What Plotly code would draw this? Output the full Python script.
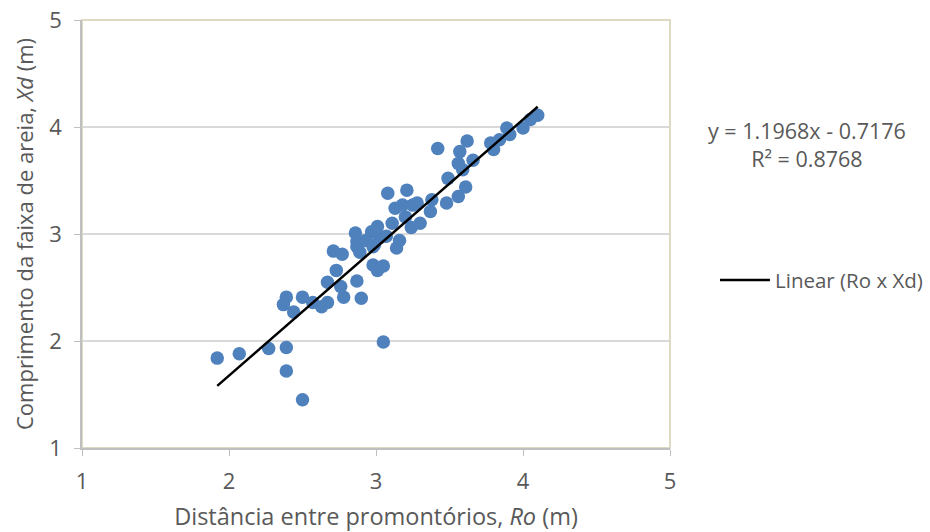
import plotly.graph_objects as go

# Distância entre promontórios (Ro) e comprimento da faixa de areia (Xd), em metros
ro = [1.92, 2.07, 2.27, 2.39, 2.39, 2.50, 3.05, 2.39, 2.50, 2.37,
      2.44, 2.57, 2.63, 2.67, 2.78, 2.90, 2.67, 2.76, 2.87, 2.73,
      2.71, 2.77, 2.87, 2.89, 2.98, 2.98, 3.05, 3.01, 2.86, 2.87,
      2.97, 3.01, 3.03, 2.99, 3.11, 3.08, 3.21, 3.13, 3.18, 3.25,
      3.28, 3.38, 3.37, 3.30, 3.24, 3.16, 3.14, 3.42, 3.62, 3.78,
      3.57, 3.66, 3.56, 3.59, 3.49, 3.61, 3.56, 3.48, 3.80, 3.84,
      3.89, 4.00, 4.05, 4.10, 3.91, 3.07, 3.20, 2.93]
xd = [1.84, 1.88, 1.93, 1.94, 1.72, 1.45, 1.99, 2.41, 2.41, 2.34,
      2.27, 2.36, 2.32, 2.36, 2.41, 2.40, 2.55, 2.51, 2.56, 2.66,
      2.84, 2.81, 2.88, 2.83, 2.88, 2.71, 2.70, 2.66, 3.01, 2.93,
      3.02, 3.07, 2.97, 2.90, 3.10, 3.38, 3.41, 3.24, 3.27, 3.27,
      3.29, 3.32, 3.21, 3.10, 3.06, 2.94, 2.87, 3.80, 3.87, 3.85,
      3.77, 3.69, 3.66, 3.60, 3.52, 3.44, 3.35, 3.29, 3.79, 3.88,
      3.99, 3.99, 4.07, 4.11, 3.93, 2.98, 3.16, 2.94]

# Ajuste linear (Ro x Xd)
slope = 1.1968
intercept = -0.7176
r2 = 0.8768
trend_label = "Linear (Ro x Xd)"

x_ticks = [1, 2, 3, 4, 5]
y_ticks = [1, 2, 3, 4, 5]

FONT = "Open Sans"
GREY_TXT = "#595959"

x_fit = [min(ro), max(ro)]
y_fit = [slope * v + intercept for v in x_fit]

fig = go.Figure()
fig.add_trace(go.Scatter(
    x=ro, y=xd, mode="markers", name="Ro x Xd", showlegend=False,
    marker=dict(size=13.5, color="#4f81bd", line=dict(width=0)),
))
fig.add_trace(go.Scatter(
    x=x_fit, y=y_fit, mode="lines", name=trend_label, showlegend=False,
    line=dict(color="black", width=2.5),
))

# borda da área do gráfico (topo e direita)
fig.add_shape(type="rect", xref="x domain", yref="y domain",
              x0=0, x1=1, y0=0, y1=1,
              line=dict(color="#ddd9c3", width=2), layer="below")

# legenda da linha de tendência
fig.add_shape(type="line", xref="paper", yref="paper",
              x0=1.085, x1=1.170, y0=0.3925, y1=0.3925,
              line=dict(color="black", width=2.5))
fig.add_annotation(
    xref="paper", yref="paper", x=1.176, y=0.3925,
    text=trend_label, showarrow=False, xanchor="left", yanchor="middle",
    font=dict(family=FONT, size=20.5, color=GREY_TXT),
)

fig.add_annotation(
    xref="paper", yref="paper", x=1.233, y=0.708,
    text=f"y = {slope}x - {abs(intercept)}<br>R² = {r2}",
    showarrow=False, align="center", xanchor="center", yanchor="middle",
    font=dict(family=FONT, size=21.5, color=GREY_TXT),
)

fig.update_xaxes(
    range=[1, 5], tickvals=x_ticks, showgrid=False, automargin=False,
    showline=True, linecolor="#bfbfbf", linewidth=1.5,
    ticks="outside", ticklen=6, tickcolor="#bfbfbf",
    ticklabelstandoff=7,
    tickfont=dict(family=FONT, size=22, color=GREY_TXT),
    title=dict(text="Distância entre promontórios, <i>Ro</i> (m)",
               font=dict(family=FONT, size=23.5, color=GREY_TXT), standoff=16),
    zeroline=False,
)
fig.update_yaxes(
    range=[1, 5], tickvals=y_ticks, showgrid=True, gridcolor="#d9d9d9", gridwidth=1.5,
    automargin=False,
    showline=True, linecolor="#bfbfbf", linewidth=1.5,
    ticks="outside", ticklen=6, tickcolor="#bfbfbf",
    ticklabelstandoff=8,
    tickfont=dict(family=FONT, size=22, color=GREY_TXT),
    title=dict(text="Comprimento da faixa de areia, <i>Xd</i> (m)",
               font=dict(family=FONT, size=22, color=GREY_TXT), standoff=10),
    zeroline=False,
)

fig.update_layout(
    width=930, height=532,
    margin=dict(l=82, r=260, t=20, b=84),
    plot_bgcolor="white", paper_bgcolor="white",
    showlegend=False,
)

fig.write_html("out.html")
